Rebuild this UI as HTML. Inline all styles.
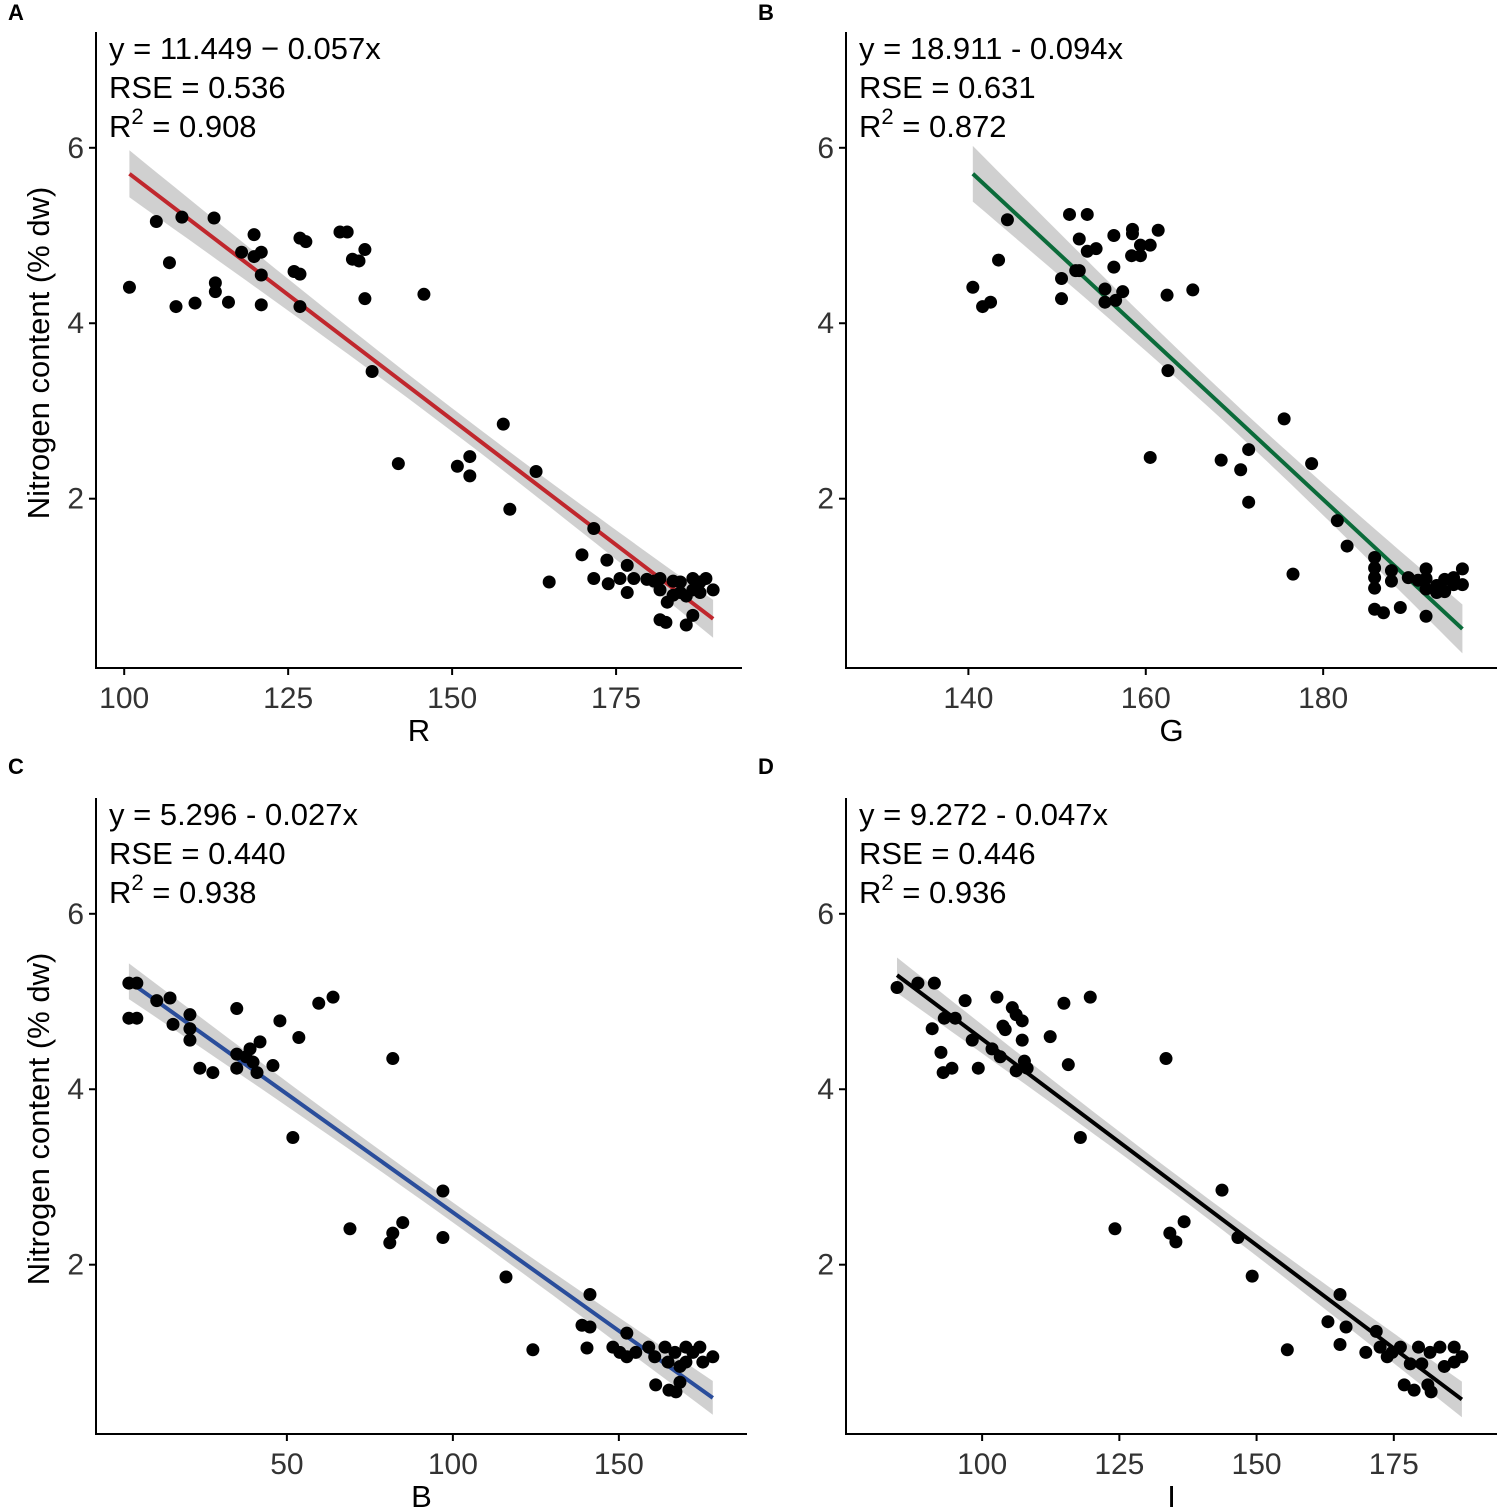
<!DOCTYPE html>
<html><head><meta charset="utf-8">
<style>
html,body{margin:0;padding:0;background:#fff;}
svg{display:block;font-family:"Liberation Sans",Arial,sans-serif;}
</style></head>
<body>
<svg id="chart" width="1500" height="1511" viewBox="0 0 1500 1511" xmlns="http://www.w3.org/2000/svg"></svg>
<script>
// Panel A (R)
const aX=[100.8,104.9,106.9,107.9,108.8,110.8,113.7,113.9,113.9,115.9,117.9,119.8,119.8,120.9,120.9,120.9,125.9,126.8,126.8,126.8,127.7,132.9,134.0,134.8,135.8,136.7,136.7,137.8,141.8,145.7,150.8,152.7,152.7,157.8,158.8,162.8,164.8,169.8,171.6,171.6,173.6,173.8,175.6,176.7,176.7,177.7,179.7,180.8,181.7,181.7,182.6,182.8,181.7,183.7,183.7,184.8,184.8,185.7,185.7,186.7,186.7,186.7,187.8,188.7,189.8,187.8];
const aY=[4.41,5.16,4.69,4.19,5.21,4.23,5.20,4.46,4.36,4.24,4.81,5.01,4.76,4.81,4.55,4.21,4.59,4.97,4.56,4.19,4.93,5.04,5.04,4.73,4.71,4.84,4.28,3.45,2.40,4.33,2.37,2.48,2.26,2.85,1.88,2.31,1.05,1.36,1.66,1.09,1.30,1.03,1.09,1.24,0.93,1.09,1.08,1.06,1.09,0.62,0.59,0.82,0.96,1.06,0.90,1.05,0.93,0.56,0.89,1.09,0.96,0.67,0.93,1.09,0.96,1.05];
// Panel B (G)
const bX=[140.5,141.6,142.5,143.4,144.4,150.5,150.5,151.4,152.1,152.5,152.5,153.4,153.4,154.4,155.4,155.4,156.4,156.4,156.6,157.4,158.4,158.5,158.5,159.4,159.4,160.5,160.5,161.4,162.4,162.5,165.3,168.5,170.7,171.6,171.6,175.6,176.6,178.7,181.6,182.7,185.8,185.8,185.8,185.8,185.8,186.8,187.7,187.7,188.7,189.6,190.7,191.6,191.6,191.6,191.6,192.8,192.8,193.7,193.7,194.7,194.7,195.7,195.7];
const bY=[4.41,4.19,4.24,4.72,5.18,4.51,4.28,5.24,4.60,4.96,4.60,5.24,4.82,4.85,4.39,4.24,4.64,5.00,4.26,4.36,4.77,5.07,5.02,4.89,4.77,4.89,2.47,5.06,4.32,3.46,4.38,2.44,2.33,2.56,1.96,2.91,1.14,2.40,1.75,1.46,1.33,1.21,1.10,0.98,0.74,0.70,1.18,1.06,0.76,1.10,1.07,1.20,1.09,0.97,0.66,1.01,0.93,1.08,0.94,1.10,1.02,1.20,1.02];
// Panel C (B)
const cX=[2.4,2.4,4.8,4.8,10.8,14.8,15.7,20.8,20.8,20.8,23.8,27.7,34.9,34.9,34.9,37.7,38.9,39.8,41.0,41.9,45.8,47.9,51.8,53.6,59.6,63.9,69.0,81.0,81.9,81.9,84.9,97.0,97.0,116.0,124.1,138.9,140.4,141.3,141.3,148.2,150.3,152.4,152.4,155.1,159.0,160.8,161.1,163.9,164.8,165.1,166.9,167.2,168.4,168.4,170.2,170.2,172.3,174.4,175.3,178.3];
const cY=[5.21,4.81,5.21,4.81,5.01,5.04,4.74,4.85,4.69,4.56,4.24,4.19,4.92,4.40,4.24,4.37,4.46,4.31,4.19,4.54,4.27,4.78,3.45,4.59,4.98,5.05,2.41,2.25,2.36,4.35,2.48,2.84,2.31,1.86,1.03,1.31,1.05,1.66,1.29,1.06,1.00,1.22,0.95,1.00,1.06,0.95,0.63,1.06,0.89,0.57,1.00,0.55,0.66,0.84,1.06,0.89,1.00,1.06,0.89,0.95];
// Panel D (I)
const dX=[84.5,88.3,90.9,91.3,92.5,92.9,93.1,94.5,95.1,96.9,98.2,99.3,102.7,101.8,103.3,103.8,104.2,105.5,106.2,106.2,107.3,107.3,107.7,108.2,112.4,114.9,115.7,117.9,119.7,124.2,133.5,134.2,135.3,136.8,143.7,146.6,149.2,155.6,163.0,165.2,165.2,166.3,169.9,171.8,172.5,173.8,174.7,176.2,176.9,178.0,178.7,179.5,180.1,181.2,181.6,181.8,183.4,184.2,186.0,186.0,187.4];
const dY=[5.16,5.21,4.69,5.21,4.42,4.19,4.81,4.24,4.81,5.01,4.56,4.24,5.05,4.46,4.37,4.72,4.68,4.93,4.85,4.21,4.78,4.56,4.32,4.24,4.60,4.98,4.28,3.45,5.05,2.41,4.35,2.36,2.26,2.49,2.85,2.31,1.87,1.03,1.35,1.66,1.09,1.29,1.00,1.24,1.06,0.95,1.00,1.06,0.63,0.87,0.57,1.06,0.87,0.63,1.00,0.55,1.06,0.84,1.06,0.89,0.95];
const intercepts=[11.449,18.911,5.296,9.272];
const slopes=[-0.057,-0.094,-0.027,-0.047];
const eqLabels=["y = 11.449 \u2212 0.057x","y = 18.911 - 0.094x","y = 5.296 - 0.027x","y = 9.272 - 0.047x"];
const rseLabels=["RSE = 0.536","RSE = 0.631","RSE = 0.440","RSE = 0.446"];
const r2Labels=["0.908","0.872","0.938","0.936"];
const rseVals=[0.536,0.631,0.440,0.446];
const yTicks=[2,4,6];
const xTicksA=[100,125,150,175], xTicksB=[140,160,180], xTicksC=[50,100,150], xTicksD=[100,125,150,175];

const NS="http://www.w3.org/2000/svg";
const svg=document.getElementById('chart');
function mk(tag,attrs,parent){const e=document.createElementNS(NS,tag);for(const k in attrs)e.setAttribute(k,attrs[k]);(parent||svg).appendChild(e);return e;}

const panels=[
 {key:'a',letter:'A',xs:aX,ys:aY,ticks:xTicksA,title:'R',color:'#c0272d',L:96,R:742,T:32,B:668,xmin:95.7,xmax:194.2,ylab:true,ly:20},
 {key:'b',letter:'B',xs:bX,ys:bY,ticks:xTicksB,title:'G',color:'#0b6b3a',L:846,R:1497,T:32,B:668,xmin:126.2,xmax:199.6,ylab:false,ly:20},
 {key:'c',letter:'C',xs:cX,ys:cY,ticks:xTicksC,title:'B',color:'#2a4d9b',L:96,R:747,T:798,B:1434,xmin:-7.5,xmax:188.6,ylab:true,ly:774},
 {key:'d',letter:'D',xs:dX,ys:dY,ticks:xTicksD,title:'I',color:'#000000',L:846,R:1497,T:798,B:1434,xmin:75.2,xmax:193.8,ylab:false,ly:774}
];
const YMIN=0.07,YMAX=7.32;

panels.forEach((p,i)=>{
  const g=mk('g',{});
  
  
  const sx=v=>p.L+(v-p.xmin)/(p.xmax-p.xmin)*(p.R-p.L);
  const sy=v=>p.B-(v-YMIN)/(YMAX-YMIN)*(p.B-p.T);
  const a=intercepts[i],b=slopes[i];
  const n=p.xs.length;
  const xmean=p.xs.reduce((s,v)=>s+v,0)/n;
  const sxx=p.xs.reduce((s,v)=>s+(v-xmean)*(v-xmean),0);
  const x0=Math.min(...p.xs),x1=Math.max(...p.xs);
  const up=[],lo=[];
  for(let k=0;k<=40;k++){
    const x=x0+(x1-x0)*k/40;
    const se=rseVals[i]*Math.sqrt(1/n+(x-xmean)*(x-xmean)/sxx)*2.0;
    const y=a+b*x;
    up.push(sx(x).toFixed(1)+','+sy(y+se).toFixed(1));
    lo.unshift(sx(x).toFixed(1)+','+sy(y-se).toFixed(1));
  }
  const band=mk('polygon',{points:up.concat(lo).join(' '),fill:'#c8c8c8','fill-opacity':0.85},g);
  
  
  const line=mk('line',{x1:sx(x0),y1:sy(a+b*x0),x2:sx(x1),y2:sy(a+b*x1),stroke:p.color,'stroke-width':4},g);
  
  
  for(let k=0;k<n;k++){
    const c=mk('circle',{cx:sx(p.xs[k]),cy:sy(p.ys[k]),r:6.5,fill:'#000'},g);
    
    
  }
  const yax=mk('line',{x1:p.L,y1:p.T,x2:p.L,y2:p.B+1,stroke:'#000','stroke-width':2},g);
  
  
  const xax=mk('line',{x1:p.L-1,y1:p.B,x2:p.R,y2:p.B,stroke:'#000','stroke-width':2},g);
  
  
  yTicks.forEach(t=>{
    mk('line',{x1:p.L-7,y1:sy(t),x2:p.L,y2:sy(t),stroke:'#000','stroke-width':2},g);
    const tl=mk('text',{x:p.L-12,y:sy(t)+10,'text-anchor':'end','font-size':30,fill:'#333'},g);
    tl.textContent=t;
    
    
  });
  p.ticks.forEach(t=>{
    mk('line',{x1:sx(t),y1:p.B,x2:sx(t),y2:p.B+7,stroke:'#000','stroke-width':2},g);
    const tl=mk('text',{x:sx(t),y:p.B+40,'text-anchor':'middle','font-size':30,fill:'#333'},g);
    tl.textContent=t;
    
    
  });
  const xt=mk('text',{x:(p.L+p.R)/2,y:p.B+73,'text-anchor':'middle','font-size':31,fill:'#000'},g);
  xt.textContent=p.title;
  
  
  if(p.ylab){
    const cy=(p.T+p.B)/2+3;
    const yt=mk('text',{x:49,y:cy,'text-anchor':'middle','font-size':31,fill:'#000',transform:'rotate(-90 49 '+cy+')'},g);
    yt.textContent='Nitrogen content (% dw)';
    
    
  }
  const pl=mk('text',{x:p.L-88,y:p.ly,'font-size':22,'font-weight':'bold',fill:'#000'},g);
  pl.textContent=p.letter;
  
  
  const ax=p.L+13;
  const e1=mk('text',{x:ax,y:p.T+27,'font-size':31,fill:'#000'},g);
  e1.textContent=eqLabels[i];
  
  
  const e2=mk('text',{x:ax,y:p.T+66,'font-size':31,fill:'#000'},g);
  e2.textContent=rseLabels[i];
  
  
  const e3=mk('text',{x:ax,y:p.T+105,'font-size':31,fill:'#000'},g);
  
  
  const t1=mk('tspan',{},e3);t1.textContent='R';
  const t2=mk('tspan',{dy:-13,'font-size':22},e3);t2.textContent='2';
  const t3=mk('tspan',{dy:13},e3);t3.textContent=' = '+r2Labels[i];
});
</script>
</body></html>
